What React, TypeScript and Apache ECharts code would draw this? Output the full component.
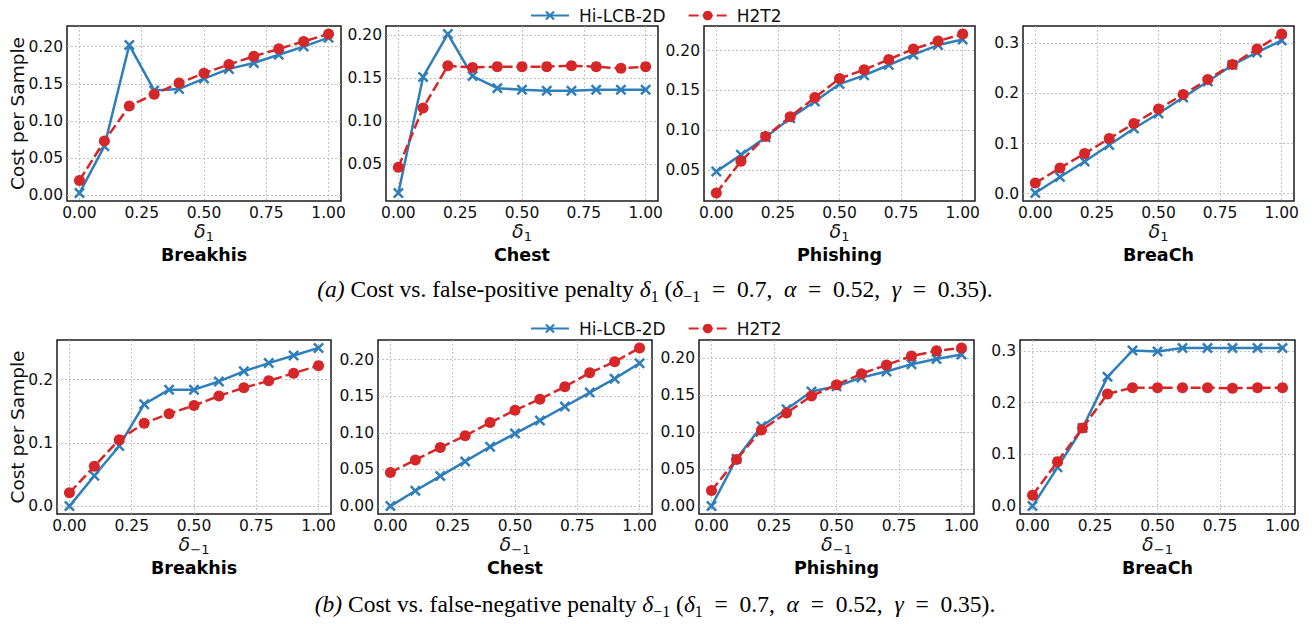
import React, { useEffect, useRef } from "react";
import * as echarts from "echarts";

// ---------- data ----------
const deltas = [0, 0.1, 0.2, 0.3, 0.4, 0.5, 0.6, 0.7, 0.8, 0.9, 1.0];
const datasetNames = ["Breakhis", "Chest", "Phishing", "BreaCh"];
const seriesNames = ["Hi-LCB-2D", "H2T2"];
const xTicks = [0, 0.25, 0.5, 0.75, 1];

// Row (a): cost vs. false-positive penalty delta_1
const aBreakhisHi = [0.003, 0.066, 0.202, 0.141, 0.143, 0.157, 0.170, 0.178, 0.189, 0.200, 0.212];
const aBreakhisH2 = [0.020, 0.073, 0.120, 0.136, 0.151, 0.164, 0.176, 0.187, 0.197, 0.207, 0.217];
const aChestHi = [0.016, 0.151, 0.201, 0.152, 0.138, 0.136, 0.135, 0.135, 0.136, 0.136, 0.136];
const aChestH2 = [0.046, 0.115, 0.164, 0.162, 0.163, 0.163, 0.163, 0.164, 0.163, 0.161, 0.163];
const aPhishingHi = [0.048, 0.069, 0.091, 0.115, 0.136, 0.158, 0.169, 0.182, 0.195, 0.207, 0.214];
const aPhishingH2 = [0.021, 0.061, 0.092, 0.117, 0.141, 0.165, 0.176, 0.189, 0.202, 0.212, 0.221];
const aBreaChHi = [0.001, 0.033, 0.064, 0.097, 0.130, 0.160, 0.192, 0.224, 0.257, 0.282, 0.306];
const aBreaChH2 = [0.021, 0.051, 0.080, 0.110, 0.140, 0.169, 0.198, 0.228, 0.258, 0.289, 0.319];

// Row (b): cost vs. false-negative penalty delta_-1
const bBreakhisHi = [0.000, 0.048, 0.095, 0.161, 0.184, 0.184, 0.197, 0.213, 0.226, 0.238, 0.250];
const bBreakhisH2 = [0.021, 0.063, 0.105, 0.131, 0.146, 0.159, 0.174, 0.187, 0.198, 0.210, 0.222];
const bChestHi = [0.000, 0.021, 0.041, 0.061, 0.081, 0.099, 0.117, 0.136, 0.155, 0.174, 0.195];
const bChestH2 = [0.046, 0.063, 0.080, 0.096, 0.114, 0.131, 0.146, 0.163, 0.182, 0.197, 0.216];
const bPhishingHi = [0.000, 0.064, 0.108, 0.131, 0.155, 0.162, 0.174, 0.182, 0.192, 0.199, 0.205];
const bPhishingH2 = [0.021, 0.063, 0.103, 0.126, 0.149, 0.164, 0.179, 0.191, 0.203, 0.210, 0.214];
const bBreaChHi = [0.000, 0.075, 0.151, 0.250, 0.301, 0.299, 0.306, 0.306, 0.306, 0.306, 0.306];
const bBreaChH2 = [0.021, 0.086, 0.151, 0.217, 0.229, 0.229, 0.229, 0.229, 0.228, 0.229, 0.229];

// y tick labels per panel
const yTicksA = [
  [0, 0.05, 0.1, 0.15, 0.2],
  [0.05, 0.1, 0.15, 0.2],
  [0.05, 0.1, 0.15, 0.2],
  [0, 0.1, 0.2, 0.3],
];
const yTicksB = [
  [0, 0.1, 0.2],
  [0, 0.05, 0.1, 0.15, 0.2],
  [0, 0.05, 0.1, 0.15, 0.2],
  [0, 0.1, 0.2, 0.3],
];
const yDecimalsA = [2, 2, 2, 1];
const yDecimalsB = [1, 2, 2, 1];

const rowA = [
  [aBreakhisHi, aBreakhisH2],
  [aChestHi, aChestH2],
  [aPhishingHi, aPhishingH2],
  [aBreaChHi, aBreaChH2],
];
const rowB = [
  [bBreakhisHi, bBreakhisH2],
  [bChestHi, bChestH2],
  [bPhishingHi, bPhishingH2],
  [bBreaChHi, bBreaChH2],
];

// ---------- layout / style ----------
const BLUE = "#2e7ebb";
const RED = "#d62728";
const SANS = "DejaVu Sans";
const SERIF = "Liberation Serif";
const rowTops = [26, 340];
const rowHeights = [175, 174];
const gridLefts = [
  [67, 386, 704, 1023],
  [57, 378, 699, 1020],
];
const gridWidths = [
  [274, 272, 271, 271],
  [274, 274, 275, 275],
];
const X_SYMBOL =
  "path://M0,1.6 L1.6,0 L5,3.4 L8.4,0 L10,1.6 L6.6,5 L10,8.4 L8.4,10 L5,6.6 L1.6,10 L0,8.4 L3.4,5 Z";

function buildOption() {
  const grids: any[] = [];
  const xAxes: any[] = [];
  const yAxes: any[] = [];
  const series: any[] = [];
  const graphics: any[] = [];
  const rows = [rowA, rowB];
  const yTicks = [yTicksA, yTicksB];
  const yDec = [yDecimalsA, yDecimalsB];
  const subs = ["1", "\u22121"];

  rows.forEach((row, r) => {
    row.forEach((pair, c) => {
      const idx = r * 4 + c;
      const left = gridLefts[r][c];
      const width = gridWidths[r][c];
      const top = rowTops[r];
      const height = rowHeights[r];
      grids.push({
        left,
        top,
        width,
        height,
        show: true,
        borderColor: "#1a1a1a",
        borderWidth: 1.5,
        backgroundColor: "transparent",
        containLabel: false,
      });
      const all = pair[0].concat(pair[1]);
      const lo = Math.min(...all);
      const hi = Math.max(...all);
      const pad = (hi - lo) * 0.05;
      const dec = yDec[r][c];
      xAxes.push({
        type: "value",
        gridIndex: idx,
        min: -0.05,
        max: 1.05,
        axisLine: { show: false },
        axisTick: { show: false, customValues: xTicks },
        axisLabel: {
          customValues: xTicks,
          formatter: (v: number) => v.toFixed(2),
          fontFamily: SANS,
          fontSize: 15.5,
          color: "#111",
          margin: 4,
        },
        splitLine: {
          show: true,
          lineStyle: { color: "#b4b4b4", width: 0.8, type: [2, 2] },
        },
        name: "{d|\u03b4}{s|" + subs[r] + "}",
        nameLocation: "middle",
        nameGap: 17,
        nameTextStyle: {
          rich: {
            d: {
              fontFamily: SANS,
              fontStyle: "italic",
              fontSize: 19,
              color: "#111",
              lineHeight: 24,
            },
            s: {
              fontFamily: SANS,
              fontSize: 13,
              color: "#111",
              lineHeight: 14,
              verticalAlign: "bottom",
            },
          },
        },
      });
      yAxes.push({
        type: "value",
        gridIndex: idx,
        min: lo - pad,
        max: hi + pad,
        axisLine: { show: false },
        axisTick: { show: false, customValues: yTicks[r][c] },
        axisLabel: {
          customValues: yTicks[r][c],
          formatter: (v: number) => v.toFixed(dec),
          fontFamily: SANS,
          fontSize: 15.5,
          color: "#111",
          margin: 4,
        },
        splitLine: {
          show: true,
          lineStyle: { color: "#b4b4b4", width: 0.8, type: [2, 2] },
        },
      });
      series.push({
        type: "line",
        name: seriesNames[0],
        xAxisIndex: idx,
        yAxisIndex: idx,
        data: deltas.map((d, i) => [d, pair[0][i]]),
        symbol: X_SYMBOL,
        symbolSize: 11,
        showSymbol: true,
        lineStyle: { color: BLUE, width: 2.5 },
        itemStyle: { color: BLUE },
        z: 2,
        silent: true,
      });
      series.push({
        type: "line",
        name: seriesNames[1],
        xAxisIndex: idx,
        yAxisIndex: idx,
        data: deltas.map((d, i) => [d, pair[1][i]]),
        symbol: "circle",
        symbolSize: 11,
        showSymbol: true,
        lineStyle: { color: RED, width: 2.5, type: [10, 4] },
        itemStyle: { color: RED },
        z: 3,
        silent: true,
      });
      graphics.push({
        type: "text",
        x: left + width / 2,
        y: top + height + 54,
        style: {
          text: datasetNames[c],
          fontFamily: SANS,
          fontWeight: "bold",
          fontSize: 17.5,
          fill: "#000",
          textAlign: "center",
          textVerticalAlign: "middle",
        },
      });
    });
    // y axis label
    graphics.push({
      type: "text",
      x: 17,
      y: rowTops[r] + rowHeights[r] / 2,
      rotation: Math.PI / 2,
      style: {
        text: "Cost per Sample",
        fontFamily: SANS,
        fontSize: 18.5,
        fill: "#111",
        textAlign: "center",
        textVerticalAlign: "middle",
      },
    });
  });

  const CAP = 23.5;
  const SP = "\u2002";
  const capRich = {
    i: { fontFamily: SERIF, fontStyle: "italic", fontSize: CAP, lineHeight: 30 },
    n: { fontFamily: SERIF, fontSize: CAP, lineHeight: 30 },
    m: { fontFamily: SERIF, fontStyle: "italic", fontSize: CAP, lineHeight: 30 },
    s: { fontFamily: SERIF, fontSize: 16, lineHeight: 17, verticalAlign: "bottom" },
  };
  const eq = (v: string) => "{n|" + SP + "=" + SP + v + "}";
  graphics.push({
    type: "text",
    x: 655,
    y: 289,
    style: {
      text:
        "{i|(a)}{n| Cost vs. false-positive penalty }{m|\u03b4}{s|1}{n| (}{m|\u03b4}{s|\u22121}" +
        eq("0.7," + SP) + "{m|\u03b1}" + eq("0.52," + SP) + "{m|\u03b3}" + eq("0.35).").replace("{n|", "{n|"),
      rich: capRich,
      fill: "#000",
      textAlign: "center",
      textVerticalAlign: "middle",
    },
  });
  graphics.push({
    type: "text",
    x: 655,
    y: 604,
    style: {
      text:
        "{i|(b)}{n| Cost vs. false-negative penalty }{m|\u03b4}{s|\u22121}{n| (}{m|\u03b4}{s|1}" +
        eq("0.7," + SP) + "{m|\u03b1}" + eq("0.52," + SP) + "{m|\u03b3}" + eq("0.35)."),
      rich: capRich,
      fill: "#000",
      textAlign: "center",
      textVerticalAlign: "middle",
    },
  });

  const legendBase = {
    data: seriesNames,
    left: 525,
    itemWidth: 38,
    itemHeight: 12,
    itemGap: 22,
    selectedMode: false,
    textStyle: {
      fontFamily: SANS,
      fontSize: 17,
      color: "#111",
      padding: [0, 0, 0, 5],
    },
  };

  return {
    animation: false,
    backgroundColor: "#ffffff",
    grid: grids,
    xAxis: xAxes,
    yAxis: yAxes,
    series,
    legend: [
      { ...legendBase, top: 2 },
      { ...legendBase, top: 315 },
    ],
    graphic: graphics,
  };
}

export default function App() {
  const ref = useRef<HTMLDivElement>(null);
  useEffect(() => {
    document.body.style.margin = "0";
    if (!ref.current) return;
    const chart = echarts.init(ref.current, undefined, { renderer: "svg" });
    chart.setOption(buildOption() as any);
    return () => {
      chart.dispose();
    };
  }, []);
  return <div ref={ref} style={{ width: 1315, height: 624 }} />;
}
